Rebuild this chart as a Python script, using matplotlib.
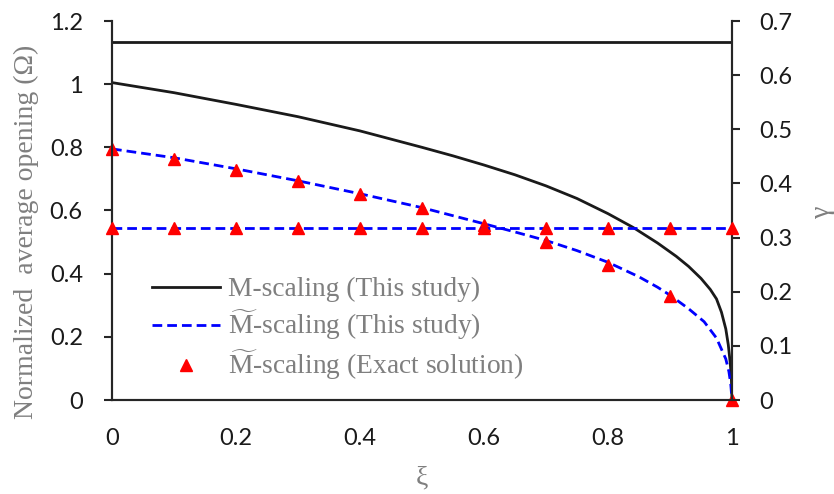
import matplotlib
matplotlib.use("Agg")
import matplotlib.pyplot as plt

plt.rcParams['mathtext.fontset'] = 'custom'
plt.rcParams['mathtext.rm'] = 'Liberation Serif'
plt.rcParams['mathtext.it'] = 'Liberation Serif:italic'

# M-scaling opening (this study)
xi_m = [0, 0.1, 0.2, 0.3, 0.4, 0.5, 0.55, 0.6, 0.65, 0.7, 0.75, 0.8, 0.84,
        0.88, 0.91, 0.93, 0.95, 0.965, 0.975, 0.983, 0.99, 0.994, 0.997,
        0.999, 1.0]
omega_m = [1.005, 0.973, 0.936, 0.897, 0.852, 0.800, 0.773, 0.744, 0.713,
           0.678, 0.638, 0.590, 0.547, 0.497, 0.455, 0.423, 0.385, 0.350,
           0.320, 0.278, 0.225, 0.175, 0.12, 0.07, 0.0]

# M~-scaling opening (this study)
xi_mt = [0, 0.1, 0.2, 0.3, 0.4, 0.5, 0.6, 0.65, 0.7, 0.75, 0.8, 0.85, 0.88,
         0.9, 0.93, 0.955, 0.975, 0.99, 0.995, 0.998, 1.0]
omega_mt = [0.795, 0.767, 0.732, 0.694, 0.653, 0.609, 0.558, 0.532, 0.505,
            0.473, 0.436, 0.390, 0.357, 0.332, 0.289, 0.248, 0.196, 0.13,
            0.09, 0.05, 0.0]

# M~-scaling exact solution
xi_exact = [0, 0.1, 0.2, 0.3, 0.4, 0.5, 0.6, 0.7, 0.8, 0.9, 1.0]
omega_exact = [0.796, 0.763, 0.729, 0.692, 0.651, 0.609, 0.554, 0.501, 0.429, 0.330, 0.0]
gamma_exact = [0.317] * len(xi_exact)

# gamma (right axis)
xi_gamma = [0, 1.0]
gamma_m = [0.661, 0.661]
gamma_mt = [0.317, 0.317]

gray = '#7f7f7f'
spine_c = '#262626'

fig = plt.figure(figsize=(8.34, 4.94), dpi=100)
ax = fig.add_axes([112 / 834, 1 - 400 / 494, 620 / 834, 379 / 494])
ax2 = ax.twinx()

blk, = ax.plot(xi_m, omega_m, color='#1a1a1a', lw=2.0)
blu, = ax.plot(xi_mt, omega_mt, color='#0000ff', lw=2.0, dashes=(3.5, 1.8))
tri, = ax.plot(xi_exact, omega_exact, ls='none', marker='^', ms=8,
               color='#ff0000', clip_on=False, zorder=5)

ax2.plot(xi_gamma, gamma_m, color='#1a1a1a', lw=2.0)
ax2.plot(xi_gamma, gamma_mt, color='#0000ff', lw=2.0, dashes=(3.5, 1.8))
ax2.plot(xi_exact, gamma_exact, ls='none', marker='^', ms=8,
         color='#ff0000', clip_on=False, zorder=5)

ax.set_xlim(0, 1)
ax.set_ylim(0, 1.2)
ax2.set_ylim(0, 0.7)
ax.set_xticks([0, 0.2, 0.4, 0.6, 0.8, 1.0])
ax.set_xticklabels(['0', '0.2', '0.4', '0.6', '0.8', '1'])
ax.set_yticks([0, 0.2, 0.4, 0.6, 0.8, 1.0, 1.2])
ax.set_yticklabels(['0', '0.2', '0.4', '0.6', '0.8', '1', '1.2'])
ax2.set_yticks([0, 0.1, 0.2, 0.3, 0.4, 0.5, 0.6, 0.7])
ax2.set_yticklabels(['0', '0.1', '0.2', '0.3', '0.4', '0.5', '0.6', '0.7'])

for a in (ax, ax2):
    a.spines['top'].set_visible(False)
    for s in ('left', 'right', 'bottom'):
        a.spines[s].set_color(spine_c)
        a.spines[s].set_linewidth(1.5)

ax.tick_params(axis='x', length=0, pad=20, labelcolor='#1a1a1a')
ax.tick_params(axis='y', direction='out', length=6, width=1.5, color=spine_c,
               pad=15, labelcolor='#1a1a1a')
ax2.tick_params(axis='y', direction='out', length=6, width=1.5, color=spine_c,
                pad=13.5, labelcolor='#1a1a1a')
for lab in ax.get_xticklabels() + ax.get_yticklabels() + ax2.get_yticklabels():
    lab.set_fontfamily('Lato')
    lab.set_fontsize(17)

fig.text(26 / 834, 1 - 232 / 494, 'Normalized  average opening (\u03a9)', rotation=90,
         ha='center', va='center', color=gray, family='Liberation Serif', fontsize=20)
fig.text(822 / 834, 1 - 212 / 494, '\u03b3', rotation=90, ha='center', va='center',
         color=gray, family='Liberation Serif', fontsize=20)
fig.text(422 / 834, 1 - 478 / 494, '\u03be', ha='center', va='center',
         color=gray, family='Liberation Serif', fontsize=20)

leg = ax.legend([blk, blu, tri],
                ['M-scaling (This study)',
                 r'$\widetilde{\mathrm{M}}$-scaling (This study)',
                 r'$\widetilde{\mathrm{M}}$-scaling (Exact solution)'],
                loc='upper left', bbox_to_anchor=(152 / 834, 1 - 277 / 494),
                bbox_transform=fig.transFigure, frameon=False, borderpad=0,
                borderaxespad=0, handlelength=2.47, handletextpad=0.3,
                labelspacing=0.2, prop=dict(family='Liberation Serif', size=19.8))
for t in leg.get_texts():
    t.set_color(gray)

fig.savefig('out.png', dpi=100)
